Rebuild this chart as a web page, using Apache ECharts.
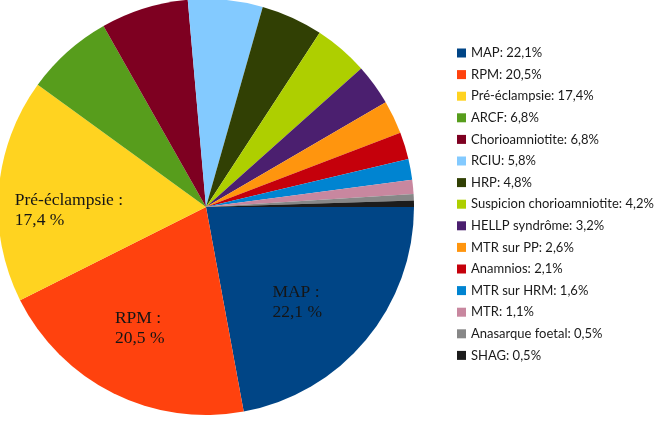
<!DOCTYPE html>
<html>
<head>
<meta charset="utf-8">
<script src="https://cdn.jsdelivr.net/npm/echarts@6/dist/echarts.min.js"></script>
<style>html,body{margin:0;padding:0;background:#fff}#c{width:658px;height:427px}</style>
</head>
<body>
<div id="c"></div>
<script>
const categories = ["MAP","RPM","Pré-éclampsie","ARCF","Chorioamniotite","RCIU","HRP","Suspicion chorioamniotite","HELLP syndrôme","MTR sur PP","Anamnios","MTR sur HRM","MTR","Anasarque foetal","SHAG"];
const values = [22.1,20.5,17.4,6.8,6.8,5.8,4.8,4.2,3.2,2.6,2.1,1.6,1.1,0.5,0.5];
const colors = ["#004586","#ff420e","#ffd320","#579d1c","#7e0021","#83caff","#314004","#aecf00","#4b1f6f","#ff950e","#c5000b","#0084d1","#c8879f","#878787","#1c1c1c"];
const sliceLabels = {"MAP":"MAP :","RPM":"RPM :","Pré-éclampsie":"Pré-éclampsie :"};
const labelPad = {"MAP":[20,22,0,0],"RPM":[4,14,0,0],"Pré-éclampsie":[28,9,0,0]};

const fmt = v => v.toFixed(1).replace('.', ',');
const valueByName = {};
categories.forEach((c,i)=>valueByName[c]=values[i]);

const mainData = categories.map((c,i)=>({name:c,value:values[i],itemStyle:{color:colors[i]}}));
const labelData = categories.map((c,i)=>{
  const has = sliceLabels[c] !== undefined;
  return {name:c,value:values[i],itemStyle:{color:'rgba(0,0,0,0)'},
    label:{show:has,padding:has?labelPad[c]:0}};
});

const chart = echarts.init(document.getElementById('c'), null, {renderer:'canvas'});
chart.setOption({
  animation:false,
  backgroundColor:'#fff',
  legend:{
    orient:'vertical',
    left:452, top:41,
    itemWidth:9, itemHeight:9, itemGap:7.6,
    icon:'rect',
    data: categories.map((c,i)=>({name:c,itemStyle:{color:colors[i]}})),
    formatter: n => n + ': ' + fmt(valueByName[n]) + '%',
    textStyle:{fontFamily:'Lato',fontSize:13,color:'#1a1a1a',lineHeight:14}
  },
  series:[
    {type:'pie',center:[206,207],radius:[0,208],startAngle:0,clockwise:true,
     data:mainData,label:{show:false},labelLine:{show:false},itemStyle:{borderWidth:0}},
    {type:'pie',center:[206,207],radius:[52,208],startAngle:0,clockwise:true,silent:true,
     data:labelData,labelLine:{show:false},itemStyle:{borderWidth:0},
     label:{show:false,position:'inside',
       formatter: p => '{a|' + sliceLabels[p.name] + '}\n{a|' + fmt(p.value) + ' %}',
       rich:{a:{fontFamily:'Liberation Serif',fontSize:17.5,lineHeight:20,color:'#151515',align:'left'}}}}
  ]
});
</script>
</body>
</html>
